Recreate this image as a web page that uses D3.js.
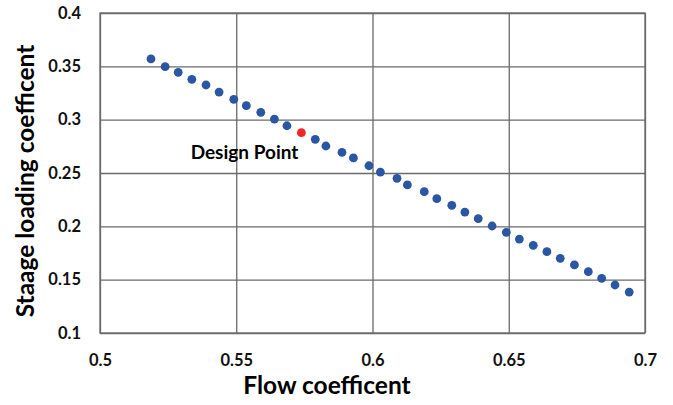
<!DOCTYPE html>
<head>
  <meta charset="utf-8">
  <title>Stage loading vs flow coefficient</title>
  <style>
  body { margin: 0; background: #fff; }
  text { font-variant-ligatures: none; }
  .tick text { font: bold 16.5px Lato, sans-serif; fill: #111; }
  .grid line, .frame { stroke: #6a6a6a; stroke-width: 1.3; }
  .title { font: bold 24.5px Lato, sans-serif; fill: #000; }
  .note { font: bold 19px Lato, sans-serif; fill: #000; }
  </style>
</head>

<svg id="vis1"></svg>

<script src="https://cdn.jsdelivr.net/npm/d3@7"></script>

<script>
"use strict";

// flow coefficient / stage loading coefficient
var flow = [0.5187, 0.5239, 0.5287, 0.5337, 0.5389, 0.5437, 0.5491, 0.5537, 0.5590,
            0.5640, 0.5686, 0.5739, 0.5790, 0.5829, 0.5888, 0.5930, 0.5987, 0.6029,
            0.6090, 0.6128, 0.6190, 0.6236, 0.6291, 0.6339, 0.6388, 0.6439, 0.6491,
            0.6539, 0.6590, 0.6640, 0.6689, 0.6741, 0.6792, 0.6841, 0.6890, 0.6942];
var loading = [0.3569, 0.3497, 0.3444, 0.3378, 0.3325, 0.3259, 0.3191, 0.3131, 0.3069,
               0.3006, 0.2943, 0.2878, 0.2816, 0.2753, 0.2694, 0.2641, 0.2568, 0.2509,
               0.2450, 0.2388, 0.2325, 0.2259, 0.2197, 0.2134, 0.2072, 0.2003, 0.1944,
               0.1881, 0.1822, 0.1762, 0.1700, 0.1638, 0.1575, 0.1513, 0.1450, 0.1384];
var designIndex = 11;
var xTicks = [0.5, 0.55, 0.6, 0.65, 0.7];
var yTicks = [0.1, 0.15, 0.2, 0.25, 0.3, 0.35, 0.4];

var totalWidth = 673,
    totalHeight = 405;

var svg = d3.select("#vis1")
    .attr("width", totalWidth)
    .attr("height", totalHeight);

var margin = {top: 13, right: 28, bottom: 72, left: 100},
    width = totalWidth - margin.left - margin.right,
    height = totalHeight - margin.top - margin.bottom;

var g = svg.append("g")
    .attr("transform", "translate(" + margin.left + "," + margin.top + ")");

var x = d3.scaleLinear().domain([0.5, 0.7]).range([0, width]);
var y = d3.scaleLinear().domain([0.1, 0.4]).range([height, 0]);

// grid + labels via axes
g.append("g")
    .attr("class", "grid")
    .attr("transform", "translate(0," + height + ")")
    .call(d3.axisBottom(x).tickValues(xTicks).tickSize(-height).tickPadding(21)
      .tickFormat(function(d) { return String(+d.toFixed(2)); }))
    .call(function(a) { a.select(".domain").remove(); });

g.append("g")
    .attr("class", "grid")
    .call(d3.axisLeft(y).tickValues(yTicks).tickSize(-width).tickPadding(19)
      .tickFormat(function(d) { return String(+d.toFixed(2)); }))
    .call(function(a) { a.select(".domain").remove(); });

g.append("rect")
    .attr("class", "frame")
    .attr("width", width)
    .attr("height", height)
    .attr("fill", "none");

// the points
var data = flow.map(function(f, i) { return {f: f, l: loading[i], design: i === designIndex}; });

g.selectAll(".dot")
    .data(data)
  .enter().append("circle")
    .attr("class", "dot")
    .attr("cx", function(d) { return x(d.f); })
    .attr("cy", function(d) { return y(d.l); })
    .attr("r", 4.4)
    .attr("fill", function(d) { return d.design ? "#f42525" : "#2a56a3"; });

var dp = data[designIndex];
g.append("text")
    .attr("class", "note")
    .attr("x", x(dp.f) - 3)
    .attr("y", y(dp.l) + 26)
    .attr("text-anchor", "end")
    .text("Design Point");

// axis titles
svg.append("text")
    .attr("class", "title")
    .attr("x", 327)
    .attr("y", 394)
    .attr("text-anchor", "middle")
    .text("Flow coefficent");

svg.append("text")
    .attr("class", "title")
    .attr("transform", "translate(34,181) rotate(-90)")
    .attr("text-anchor", "middle")
    .text("Staage loading coefficent");
</script>
